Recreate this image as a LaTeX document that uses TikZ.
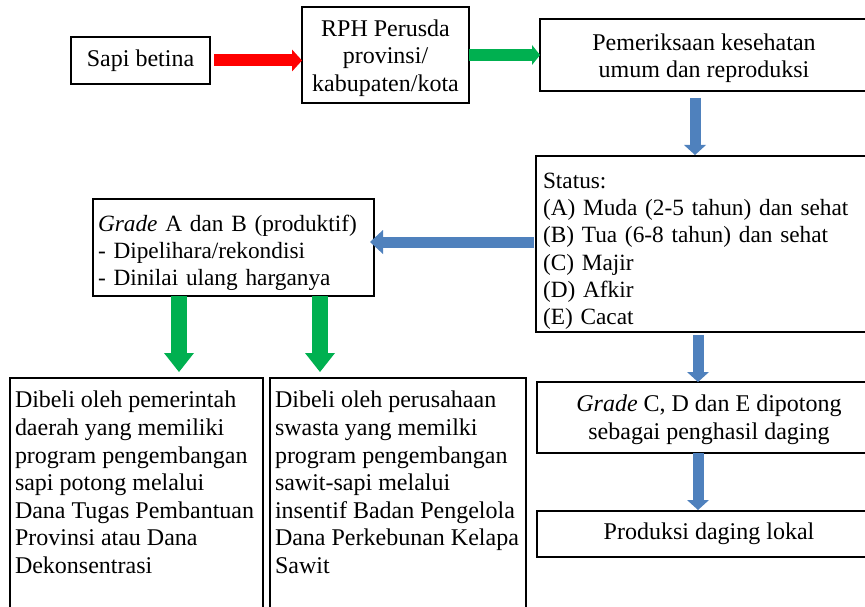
\documentclass[tikz,border=0pt]{standalone}
\usepackage{fontspec}
\setmainfont{Liberation Serif}
\usetikzlibrary{arrows.meta}
\definecolor{merah}{RGB}{255,0,0}
\definecolor{hijau}{RGB}{0,176,80}
\definecolor{biru}{RGB}{79,129,189}
\tikzset{
    kotak/.style={draw, line width=1.6pt, anchor=north west, inner sep=0pt, outer sep=0pt},
    tengah/.style={kotak, align=center},
    kiri/.style={kotak, align=left, font=\fontsize{23.3pt}{27.2pt}\selectfont},
    panahmerah/.style={draw=merah, line width=12pt, -{Triangle[length=10pt,width=22pt,line width=0pt]}},
    panahhijau/.style={draw=hijau, line width=12pt, -{Triangle[length=8pt,width=20pt,line width=0pt]}},
    panahhijaubesar/.style={draw=hijau, line width=16pt, -{Triangle[length=19pt,width=30pt,line width=0pt]}},
    panahbiru/.style={draw=biru, line width=11pt, -{Triangle[length=10pt,width=22pt,line width=0pt]}}
}

\begin{document}
\begin{tikzpicture}[x=1pt, y=-1pt, font=\fontsize{24pt}{27.6pt}\selectfont]
        \useasboundingbox (0,0) rectangle (865,607);
        % baris atas
        \node[tengah, minimum width=139pt, minimum height=47pt] (sapi) at (71,37) {Sapi betina};
        \node[tengah, minimum width=167pt, minimum height=96pt] (rph) at (302,7) {\rule{0pt}{22.5pt}RPH Perusda\\provinsi/\\kabupaten/kota};
        \node[tengah, minimum width=328pt, minimum height=72pt] (periksa) at (540,19) {\rule{0pt}{23.5pt}Pemeriksaan kesehatan\\umum dan reproduksi};
        % status dan grade
        \node[kiri, inner xsep=7pt, text width=320pt, minimum height=176pt] (status) at (536,156) {\rule{0pt}{30pt}Status:\\(A) Muda (2-5 tahun) dan sehat\\(B) Tua (6-8 tahun) dan sehat\\(C) Majir\\(D) Afkir\\(E) Cacat};
        \node[kiri, inner xsep=5pt, text width=271pt, minimum height=97pt] (gradeAB) at (93,199) {\rule{0pt}{27.5pt}\textit{Grade} A dan B (produktif)\\- Dipelihara/rekondisi\\- Dinilai ulang harganya};
        \node[kotak, inner xsep=5pt, inner ysep=10.5pt] (pemda) at (10,378) {\parbox[t][226pt][t]{243pt}{\raggedright\strut Dibeli oleh pemerintah\\daerah yang memiliki\\program pengembangan\\sapi potong melalui\\Dana Tugas Pembantuan\\Provinsi atau Dana\\Dekonsentrasi}};
        \node[kotak, inner xsep=5pt, inner ysep=10.5pt] (swasta) at (270,378) {\parbox[t][226pt][t]{246pt}{\raggedright\strut Dibeli oleh perusahaan\\swasta yang memilki\\program pengembangan\\sawit-sapi melalui\\insentif Badan Pengelola\\Dana Perkebunan Kelapa\\Sawit}};
        \node[tengah, minimum width=344pt, minimum height=71pt] (gradeCDE) at (537,382) {\rule{0pt}{21.5pt}\textit{Grade} C, D dan E dipotong\\sebagai penghasil daging};
        \node[tengah, minimum width=344pt, minimum height=46pt] (produksi) at (537,511) {Produksi daging lokal};
        % panah
        \draw[panahmerah, shorten <=4pt] (sapi.east) -- (sapi.east -| rph.west);
        \draw[panahhijau] (rph.east) -- (periksa.west);
        \draw[panahbiru, shorten <=7pt, shorten >=1pt] ([xshift=-9pt]periksa.south) -- ([xshift=-9pt]periksa.south |- status.north);
        \draw[panahbiru, -{Triangle[length=13pt,width=24pt,line width=0pt]}, shorten <=2pt, shorten >=-4pt] ([yshift=2pt]status.west) -- ([yshift=2pt]status.west -| gradeAB.east);
        \draw[panahbiru, shorten <=3pt] ([xshift=-5pt]status.south) -- ([xshift=-5pt]status.south |- gradeCDE.north);
        \draw[panahbiru, shorten >=1pt] ([xshift=-11pt]gradeCDE.south) -- ([xshift=-11pt]gradeCDE.south |- produksi.north);
        \foreach \dx/\tujuan in {-54.5/pemda,86.5/swasta}{
            \draw[panahhijaubesar, shorten >=6pt] ([xshift=\dx pt]gradeAB.south) -- ([xshift=\dx pt]gradeAB.south |- \tujuan.north);
        }
\end{tikzpicture}
\end{document}
